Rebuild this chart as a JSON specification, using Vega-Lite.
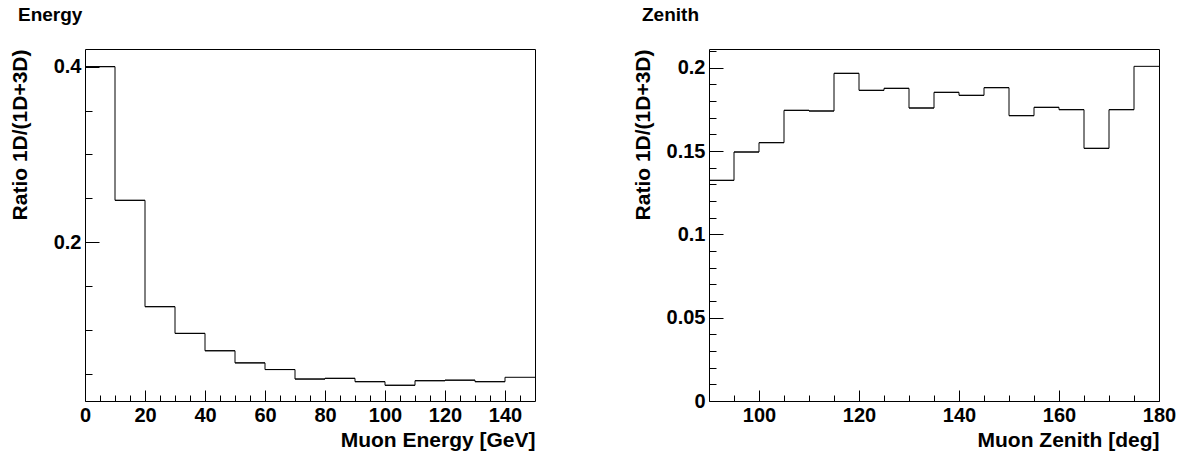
{
  "$schema": "https://vega.github.io/schema/vega-lite/v6.json",
  "background": "white",
  "padding": {"left": 8, "top": 5, "right": 5, "bottom": 5},
  "config": {
    "view": {"stroke": "black", "strokeWidth": 1},
    "font": "Liberation Sans",
    "axis": {
      "labelFont": "Liberation Sans", "labelFontWeight": "bold", "labelFontSize": 20, "labelColor": "black",
      "titleFont": "Liberation Sans", "titleFontWeight": "bold", "titleFontSize": 21, "titleColor": "black",
      "tickColor": "black", "tickWidth": 1, "domain": false, "grid": false, "labelOverlap": false, "labelFlush": false, "format": "~f"
    },
    "title": {"font": "Liberation Sans", "fontWeight": "bold", "fontSize": 19, "color": "black"}
  },
  "datasets": {
    "energy": [
      {"lo": 0, "hi": 10, "ratio": 0.400},
      {"lo": 10, "hi": 20, "ratio": 0.2478},
      {"lo": 20, "hi": 30, "ratio": 0.1267},
      {"lo": 30, "hi": 40, "ratio": 0.0963},
      {"lo": 40, "hi": 50, "ratio": 0.0765},
      {"lo": 50, "hi": 60, "ratio": 0.0627},
      {"lo": 60, "hi": 70, "ratio": 0.0551},
      {"lo": 70, "hi": 80, "ratio": 0.0443},
      {"lo": 80, "hi": 90, "ratio": 0.0451},
      {"lo": 90, "hi": 100, "ratio": 0.0413},
      {"lo": 100, "hi": 110, "ratio": 0.0372},
      {"lo": 110, "hi": 120, "ratio": 0.0424},
      {"lo": 120, "hi": 130, "ratio": 0.0430},
      {"lo": 130, "hi": 140, "ratio": 0.0413},
      {"lo": 140, "hi": 150, "ratio": 0.0463}
    ],
    "zenith": [
      {"lo": 90, "hi": 95, "ratio": 0.1324},
      {"lo": 95, "hi": 100, "ratio": 0.1494},
      {"lo": 100, "hi": 105, "ratio": 0.1550},
      {"lo": 105, "hi": 110, "ratio": 0.1744},
      {"lo": 110, "hi": 115, "ratio": 0.1740},
      {"lo": 115, "hi": 120, "ratio": 0.1966},
      {"lo": 120, "hi": 125, "ratio": 0.1864},
      {"lo": 125, "hi": 130, "ratio": 0.1876},
      {"lo": 130, "hi": 135, "ratio": 0.1758},
      {"lo": 135, "hi": 140, "ratio": 0.1852},
      {"lo": 140, "hi": 145, "ratio": 0.1834},
      {"lo": 145, "hi": 150, "ratio": 0.1880},
      {"lo": 150, "hi": 155, "ratio": 0.1712},
      {"lo": 155, "hi": 160, "ratio": 0.1762},
      {"lo": 160, "hi": 165, "ratio": 0.1748},
      {"lo": 165, "hi": 170, "ratio": 0.1516},
      {"lo": 170, "hi": 175, "ratio": 0.1748},
      {"lo": 175, "hi": 180, "ratio": 0.2008}
    ]
  },
  "spacing": 174,
  "bounds": "flush",
  "hconcat": [
    {
      "width": 450, "height": 352,
      "title": {"text": "Energy", "anchor": "start", "frame": "group", "dx": -67, "baseline": "alphabetic", "offset": 9},
      "data": {"name": "energy"},
      "layer": [
        {
          "mark": {"type": "rule", "color": "black", "strokeWidth": 1},
          "encoding": {
            "x": {"field": "lo", "type": "quantitative", "scale": {"domain": [0, 150], "nice": false, "zero": false},
              "axis": {"orient": "bottom", "values": [0, 20, 40, 60, 80, 100, 120, 140], "tickSize": -11, "labelPadding": 15,
                "title": "Muon Energy [GeV]", "titleAlign": "right", "titleX": 450, "titleY": 45, "titleBaseline": "alphabetic"}},
            "x2": {"field": "hi"},
            "y": {"field": "ratio", "type": "quantitative", "scale": {"domain": [0.0193, 0.4201], "nice": false, "zero": false},
              "axis": {"orient": "left", "values": [0.2, 0.4], "tickSize": -14, "labelPadding": 18,
                "title": "Ratio 1D/(1D+3D)", "titleAngle": 270, "titleAlign": "right", "titleBaseline": "middle", "titleX": -65, "titleY": 0}}
          }
        },
        {
          "mark": {"type": "line", "interpolate": "step-after", "color": "black", "strokeWidth": 1},
          "encoding": {
            "x": {"field": "lo", "type": "quantitative",
              "axis": {"orient": "bottom", "values": [5, 10, 15, 25, 30, 35, 45, 50, 55, 65, 70, 75, 85, 90, 95, 105, 110, 115, 125, 130, 135, 145], "tickSize": -6, "labels": false, "title": null}},
            "y": {"field": "ratio", "type": "quantitative",
              "axis": {"orient": "left", "values": [0.05, 0.1, 0.15, 0.25, 0.3, 0.35], "tickSize": -7, "labels": false, "title": null}}
          }
        }
      ],
      "resolve": {"axis": {"x": "independent", "y": "independent"}}
    },
    {
      "width": 450, "height": 352,
      "title": {"text": "Zenith", "anchor": "start", "frame": "group", "dx": -67, "baseline": "alphabetic", "offset": 9},
      "data": {"name": "zenith"},
      "layer": [
        {
          "mark": {"type": "rule", "color": "black", "strokeWidth": 1},
          "encoding": {
            "x": {"field": "lo", "type": "quantitative", "scale": {"domain": [90, 180], "nice": false, "zero": false},
              "axis": {"orient": "bottom", "values": [100, 120, 140, 160, 180], "tickSize": -11, "labelPadding": 15,
                "title": "Muon Zenith [deg]", "titleAlign": "right", "titleX": 450, "titleY": 45, "titleBaseline": "alphabetic"}},
            "x2": {"field": "hi"},
            "y": {"field": "ratio", "type": "quantitative", "scale": {"domain": [0, 0.2112], "nice": false, "zero": false},
              "axis": {"orient": "left", "values": [0, 0.05, 0.1, 0.15, 0.2], "tickSize": -14, "labelPadding": 18,
                "title": "Ratio 1D/(1D+3D)", "titleAngle": 270, "titleAlign": "right", "titleBaseline": "middle", "titleX": -66, "titleY": 0}}
          }
        },
        {
          "mark": {"type": "line", "interpolate": "step-after", "color": "black", "strokeWidth": 1},
          "encoding": {
            "x": {"field": "lo", "type": "quantitative",
              "axis": {"orient": "bottom", "values": [95, 105, 110, 115, 125, 130, 135, 145, 150, 155, 165, 170, 175], "tickSize": -6, "labels": false, "title": null}},
            "y": {"field": "ratio", "type": "quantitative",
              "axis": {"orient": "left", "values": [0.01, 0.02, 0.03, 0.04, 0.06, 0.07, 0.08, 0.09, 0.11, 0.12, 0.13, 0.14, 0.16, 0.17, 0.18, 0.19, 0.21], "tickSize": -7, "labels": false, "title": null}}
          }
        }
      ],
      "resolve": {"axis": {"x": "independent", "y": "independent"}}
    }
  ]
}
